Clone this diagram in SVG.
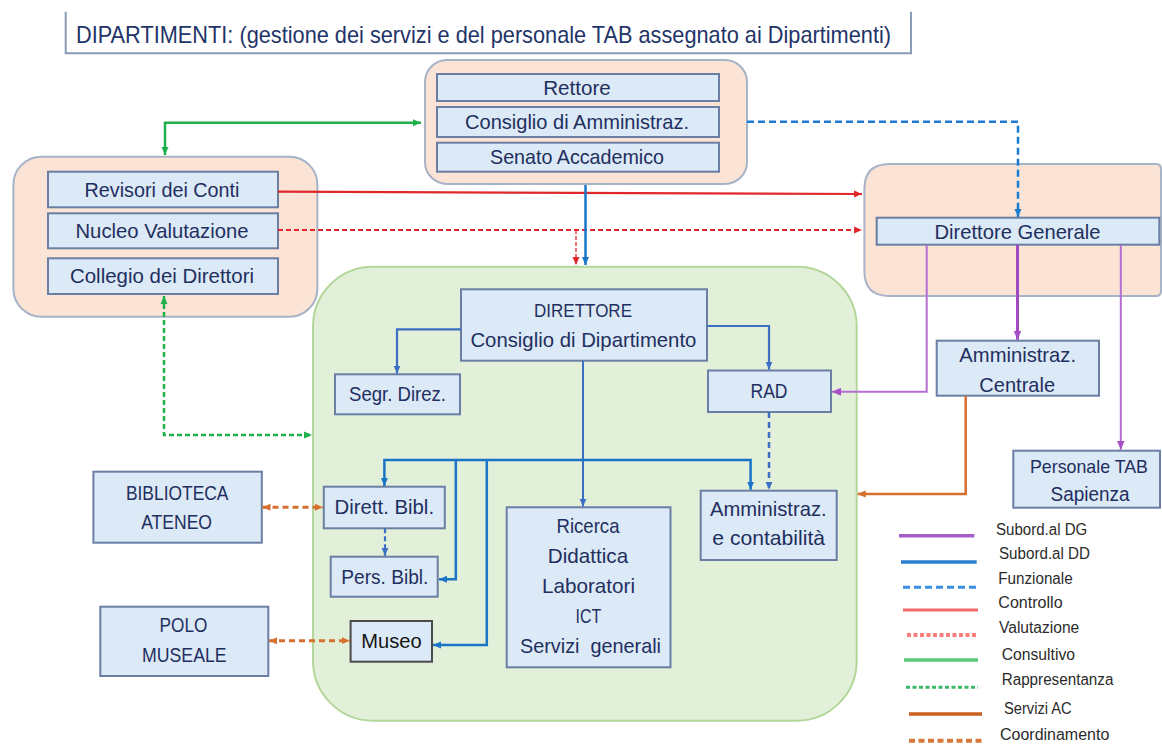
<svg xmlns="http://www.w3.org/2000/svg" width="1162" height="744" viewBox="0 0 1162 744">
<style>
.grp{fill:#fbe4d5;stroke:#a7b3c6;stroke-width:2}
.dept{fill:#e2efd9;stroke:#b3d79a;stroke-width:2}
.box{fill:#dce9f6;stroke:#6a7fa3;stroke-width:2}
.dk{fill:#dce9f6;stroke:#4a4a4a;stroke-width:2}
text{font-family:"Liberation Sans",Arial,sans-serif;font-size:21px;fill:#1f2f60;text-anchor:middle}
.ttl{font-size:24px;text-anchor:start;fill:#1f3468}
.lg{font-size:16px;text-anchor:start;fill:#2b2b2b}
</style>
<defs>
<marker id="aB" viewBox="0 0 8 8" refX="8" refY="4" markerWidth="8" markerHeight="8" markerUnits="userSpaceOnUse" orient="auto-start-reverse"><path d="M0,0.5 L8,4 L0,7.5z" fill="#1b75c7"/></marker>
<marker id="aBd" viewBox="0 0 8 8" refX="8" refY="4" markerWidth="8" markerHeight="8" markerUnits="userSpaceOnUse" orient="auto-start-reverse"><path d="M0,0.5 L8,4 L0,7.5z" fill="#1a7bd0"/></marker>
<marker id="aB2" viewBox="0 0 8 8" refX="8" refY="4" markerWidth="8" markerHeight="8" markerUnits="userSpaceOnUse" orient="auto-start-reverse"><path d="M0,0.5 L8,4 L0,7.5z" fill="#3a6fc4"/></marker>
<marker id="aR" viewBox="0 0 8 8" refX="8" refY="4" markerWidth="8" markerHeight="8" markerUnits="userSpaceOnUse" orient="auto-start-reverse"><path d="M0,0.5 L8,4 L0,7.5z" fill="#e0282c"/></marker>
<marker id="aG" viewBox="0 0 8 8" refX="8" refY="4" markerWidth="8" markerHeight="8" markerUnits="userSpaceOnUse" orient="auto-start-reverse"><path d="M0,0.5 L8,4 L0,7.5z" fill="#1fb04c"/></marker>
<marker id="aP" viewBox="0 0 8 8" refX="8" refY="4" markerWidth="9" markerHeight="9" markerUnits="userSpaceOnUse" orient="auto-start-reverse"><path d="M0,0.5 L8,4 L0,7.5z" fill="#a552c6"/></marker>
<marker id="aO" viewBox="0 0 8 8" refX="8" refY="4" markerWidth="8" markerHeight="8" markerUnits="userSpaceOnUse" orient="auto-start-reverse"><path d="M0,0.5 L8,4 L0,7.5z" fill="#d5702f"/></marker>
</defs>
<rect width="1162" height="744" fill="#ffffff"/>

<g id="title">
<path d="M65.7,11.7 V53.3 H911 V11.7" fill="none" stroke="#8a9bb8" stroke-width="2"/>
<text class="ttl" x="76" y="42.5" textLength="815" lengthAdjust="spacingAndGlyphs">DIPARTIMENTI: (gestione dei servizi e del personale TAB assegnato ai Dipartimenti)</text>
</g>

<g id="organi-centrali">
<rect class="grp" x="425" y="60" width="322" height="124" rx="22"/>
<g id="rettore"><rect class="box" x="437" y="74" width="282" height="27"/><text x="577" y="94.5" textLength="67.6" lengthAdjust="spacingAndGlyphs">Rettore</text></g>
<g id="cda"><rect class="box" x="437" y="107" width="282" height="30"/><text x="577" y="128.5" textLength="224" lengthAdjust="spacingAndGlyphs">Consiglio di Amministraz.</text></g>
<g id="senato"><rect class="box" x="437" y="142.7" width="282" height="29"/><text x="577" y="163.5" textLength="174" lengthAdjust="spacingAndGlyphs">Senato Accademico</text></g>
</g>

<g id="organi-controllo">
<rect class="grp" x="13.4" y="156.7" width="304" height="160" rx="28"/>
<g id="revisori"><rect class="box" x="48" y="171.7" width="230" height="35.6"/><text x="162" y="196.5" textLength="155" lengthAdjust="spacingAndGlyphs">Revisori dei Conti</text></g>
<g id="nucleo"><rect class="box" x="48" y="213.3" width="230" height="35"/><text x="162" y="237.5" textLength="173" lengthAdjust="spacingAndGlyphs">Nucleo Valutazione</text></g>
<g id="collegio"><rect class="box" x="48" y="258.3" width="230" height="35.7"/><text x="162" y="283" textLength="184" lengthAdjust="spacingAndGlyphs">Collegio dei Direttori</text></g>
</g>

<g id="direzione-generale">
<path class="grp" d="M889.4,164 H1156 Q1161,164 1161,169 V291 Q1161,296 1156,296 H889.4 Q864.4,296 864.4,271 V189 Q864.4,164 889.4,164 Z"/>
<g id="dg"><rect class="box" x="876.7" y="217.7" width="282.6" height="27"/><text x="1017.5" y="239.3" textLength="166" lengthAdjust="spacingAndGlyphs">Direttore Generale</text></g>
</g>

<g id="dipartimento">
<rect class="dept" x="313" y="266.7" width="543.7" height="454" rx="60"/>
</g>

<g id="direttore"><rect class="box" x="461" y="289.3" width="246" height="71.4"/><text x="583" y="316.7" style="font-size:19px" textLength="98" lengthAdjust="spacingAndGlyphs">DIRETTORE</text><text x="583.4" y="347.3" textLength="226" lengthAdjust="spacingAndGlyphs">Consiglio di Dipartimento</text></g>
<g id="segr"><rect class="box" x="335" y="374.3" width="125" height="40"/><text x="397.5" y="400.7" textLength="97" lengthAdjust="spacingAndGlyphs">Segr. Direz.</text></g>
<g id="rad"><rect class="box" x="708" y="370.5" width="123" height="41.5"/><text x="769" y="398" textLength="37" lengthAdjust="spacingAndGlyphs">RAD</text></g>
<g id="amm-centrale"><rect class="box" x="936.7" y="340.7" width="162.3" height="55"/><text x="1017.7" y="362.3" textLength="116.7" lengthAdjust="spacingAndGlyphs">Amministraz.</text><text x="1017.2" y="391.7" textLength="75.7" lengthAdjust="spacingAndGlyphs">Centrale</text></g>
<g id="personale-tab"><rect class="box" x="1013.3" y="450.7" width="146.7" height="57"/><text x="1089" y="473" style="font-size:19px" textLength="118" lengthAdjust="spacingAndGlyphs">Personale TAB</text><text x="1090" y="500.5" style="font-size:20px" textLength="79" lengthAdjust="spacingAndGlyphs">Sapienza</text></g>
<g id="amm-contabilita"><rect class="box" x="700.7" y="490.7" width="136" height="69.3"/><text x="768.3" y="515.7" textLength="116.7" lengthAdjust="spacingAndGlyphs">Amministraz.</text><text x="768.7" y="545" textLength="112.7" lengthAdjust="spacingAndGlyphs">e contabilità</text></g>
<g id="biblioteca"><rect class="box" x="93.4" y="471.7" width="168.4" height="71"/><text x="177.2" y="500" textLength="102.6" lengthAdjust="spacingAndGlyphs">BIBLIOTECA</text><text x="176.6" y="529" textLength="70.8" lengthAdjust="spacingAndGlyphs">ATENEO</text></g>
<g id="dirett-bibl"><rect class="box" x="323.8" y="486.7" width="121" height="41.6"/><text x="384.3" y="514" textLength="99.5" lengthAdjust="spacingAndGlyphs">Dirett. Bibl.</text></g>
<g id="pers-bibl"><rect class="box" x="330.7" y="556.7" width="107" height="40"/><text x="384.8" y="584" textLength="87" lengthAdjust="spacingAndGlyphs">Pers. Bibl.</text></g>
<g id="museo"><rect class="dk" x="350.6" y="621" width="81.4" height="40.7"/><text x="391.5" y="648.3" style="fill:#151515" textLength="60.4" lengthAdjust="spacingAndGlyphs">Museo</text></g>
<g id="polo"><rect class="box" x="100.3" y="606.7" width="168" height="69.3"/><text x="183.5" y="631.7" textLength="47.8" lengthAdjust="spacingAndGlyphs">POLO</text><text x="184.3" y="661.7" textLength="84.6" lengthAdjust="spacingAndGlyphs">MUSEALE</text></g>
<g id="ricerca"><rect class="box" x="506.7" y="507.3" width="163.8" height="160"/>
<text x="588" y="533.3" textLength="63" lengthAdjust="spacingAndGlyphs">Ricerca</text>
<text x="588" y="563.3" textLength="80.3" lengthAdjust="spacingAndGlyphs">Didattica</text>
<text x="588.5" y="593.3" textLength="93" lengthAdjust="spacingAndGlyphs">Laboratori</text>
<text x="588.4" y="623.3" textLength="25.6" lengthAdjust="spacingAndGlyphs">ICT</text>
<text x="590.5" y="653.3" xml:space="preserve" textLength="141" lengthAdjust="spacingAndGlyphs">Servizi  generali</text>
</g>

<g id="connectors" fill="none">
<path d="M165,155 V122.7 H421" stroke="#1fb04c" stroke-width="2.5" marker-start="url(#aG)" marker-end="url(#aG)"/>
<path d="M747,121.7 H1018 V217" stroke="#1a7bd0" stroke-width="2.5" stroke-dasharray="7,4" marker-end="url(#aBd)"/>
<path d="M278,191.7 L862,194" stroke="#e0282c" stroke-width="2.2" marker-end="url(#aR)"/>
<path d="M278,230 H862" stroke="#e0282c" stroke-width="2.2" stroke-dasharray="5,3" marker-end="url(#aR)"/>
<path d="M576,230 V265" stroke="#e0282c" stroke-width="1.3" stroke-dasharray="4,2" marker-end="url(#aR)"/>
<path d="M585.5,185 V265" stroke="#1b75c7" stroke-width="2.5" marker-end="url(#aB)"/>
<path d="M164,296 V435 H312" stroke="#1fb04c" stroke-width="2.5" stroke-dasharray="5,3" marker-start="url(#aG)" marker-end="url(#aG)"/>
<path d="M461,329.3 H397 V373.5" stroke="#3a6fc4" stroke-width="2.2" marker-end="url(#aB2)"/>
<path d="M707,326 H769 V369.5" stroke="#3a6fc4" stroke-width="2.2" marker-end="url(#aB2)"/>
<path d="M769,412 V489.7" stroke="#3a6fc4" stroke-width="2.5" stroke-dasharray="6,4" marker-end="url(#aB2)"/>
<path d="M583,360.7 V506.5" stroke="#3a6fc4" stroke-width="2" marker-end="url(#aB2)"/>
<path d="M384.4,486 V460 H750.6 V489.7" stroke="#1b75c7" stroke-width="2.5" marker-start="url(#aB)" marker-end="url(#aB)"/>
<path d="M455.8,460 V579.3 H439" stroke="#1b75c7" stroke-width="2.5" marker-end="url(#aB)"/>
<path d="M486.8,460 V645 H433" stroke="#1b75c7" stroke-width="2.5" marker-end="url(#aB)"/>
<path d="M385,528.3 V555.7" stroke="#3a6fc4" stroke-width="2.2" stroke-dasharray="5,3" marker-end="url(#aB2)"/>
<path d="M926.7,245 V391.7 H832" stroke="#b56fd4" stroke-width="2" marker-end="url(#aP)"/>
<path d="M1017.5,245 V339.7" stroke="#a04cc0" stroke-width="3" marker-end="url(#aP)"/>
<path d="M1120.8,245 V449.7" stroke="#b56fd4" stroke-width="2" marker-end="url(#aP)"/>
<path d="M965.7,396 V494 H857.7" stroke="#d5702f" stroke-width="2.5" marker-end="url(#aO)"/>
<path d="M262.5,507.3 H323" stroke="#d5702f" stroke-width="3" stroke-dasharray="6,4" marker-start="url(#aO)" marker-end="url(#aO)"/>
<path d="M269,640.7 H349.8" stroke="#d5702f" stroke-width="3" stroke-dasharray="6,4" marker-start="url(#aO)" marker-end="url(#aO)"/>
</g>

<g id="legend" fill="none">
<path d="M899,535.7 H974.3" stroke="#a45cc8" stroke-width="3.5"/>
<path d="M901,562 H976.7" stroke="#2a7fcf" stroke-width="3.5"/>
<path d="M903,587.3 H978" stroke="#3b8ee0" stroke-width="3" stroke-dasharray="7,4"/>
<path d="M903,610 H978" stroke="#f26b6b" stroke-width="3"/>
<path d="M907,635 H977" stroke="#f87d7d" stroke-width="4" stroke-dasharray="4,2.5"/>
<path d="M904,660 H978" stroke="#5cc97a" stroke-width="3.5"/>
<path d="M906,687.3 H978" stroke="#3cb86a" stroke-width="3" stroke-dasharray="4,2.5"/>
<path d="M909,714 H982" stroke="#c8621e" stroke-width="3.5"/>
<path d="M909,740.7 H982" stroke="#d8773a" stroke-width="4" stroke-dasharray="6,3.5"/>
<text class="lg" x="996" y="535" textLength="91.3" lengthAdjust="spacingAndGlyphs">Subord.al DG</text>
<text class="lg" x="999" y="559" textLength="91" lengthAdjust="spacingAndGlyphs">Subord.al DD</text>
<text class="lg" x="998.3" y="584" textLength="74.3" lengthAdjust="spacingAndGlyphs">Funzionale</text>
<text class="lg" x="998.3" y="608" textLength="64.3" lengthAdjust="spacingAndGlyphs">Controllo</text>
<text class="lg" x="999" y="633" textLength="80.3" lengthAdjust="spacingAndGlyphs">Valutazione</text>
<text class="lg" x="1001.7" y="660" textLength="73.3" lengthAdjust="spacingAndGlyphs">Consultivo</text>
<text class="lg" x="1001.7" y="685" textLength="111.7" lengthAdjust="spacingAndGlyphs">Rappresentanza</text>
<text class="lg" x="1004" y="714" textLength="67.7" lengthAdjust="spacingAndGlyphs">Servizi AC</text>
<text class="lg" x="1000" y="740" textLength="109.3" lengthAdjust="spacingAndGlyphs">Coordinamento</text>
</g>
</svg>
